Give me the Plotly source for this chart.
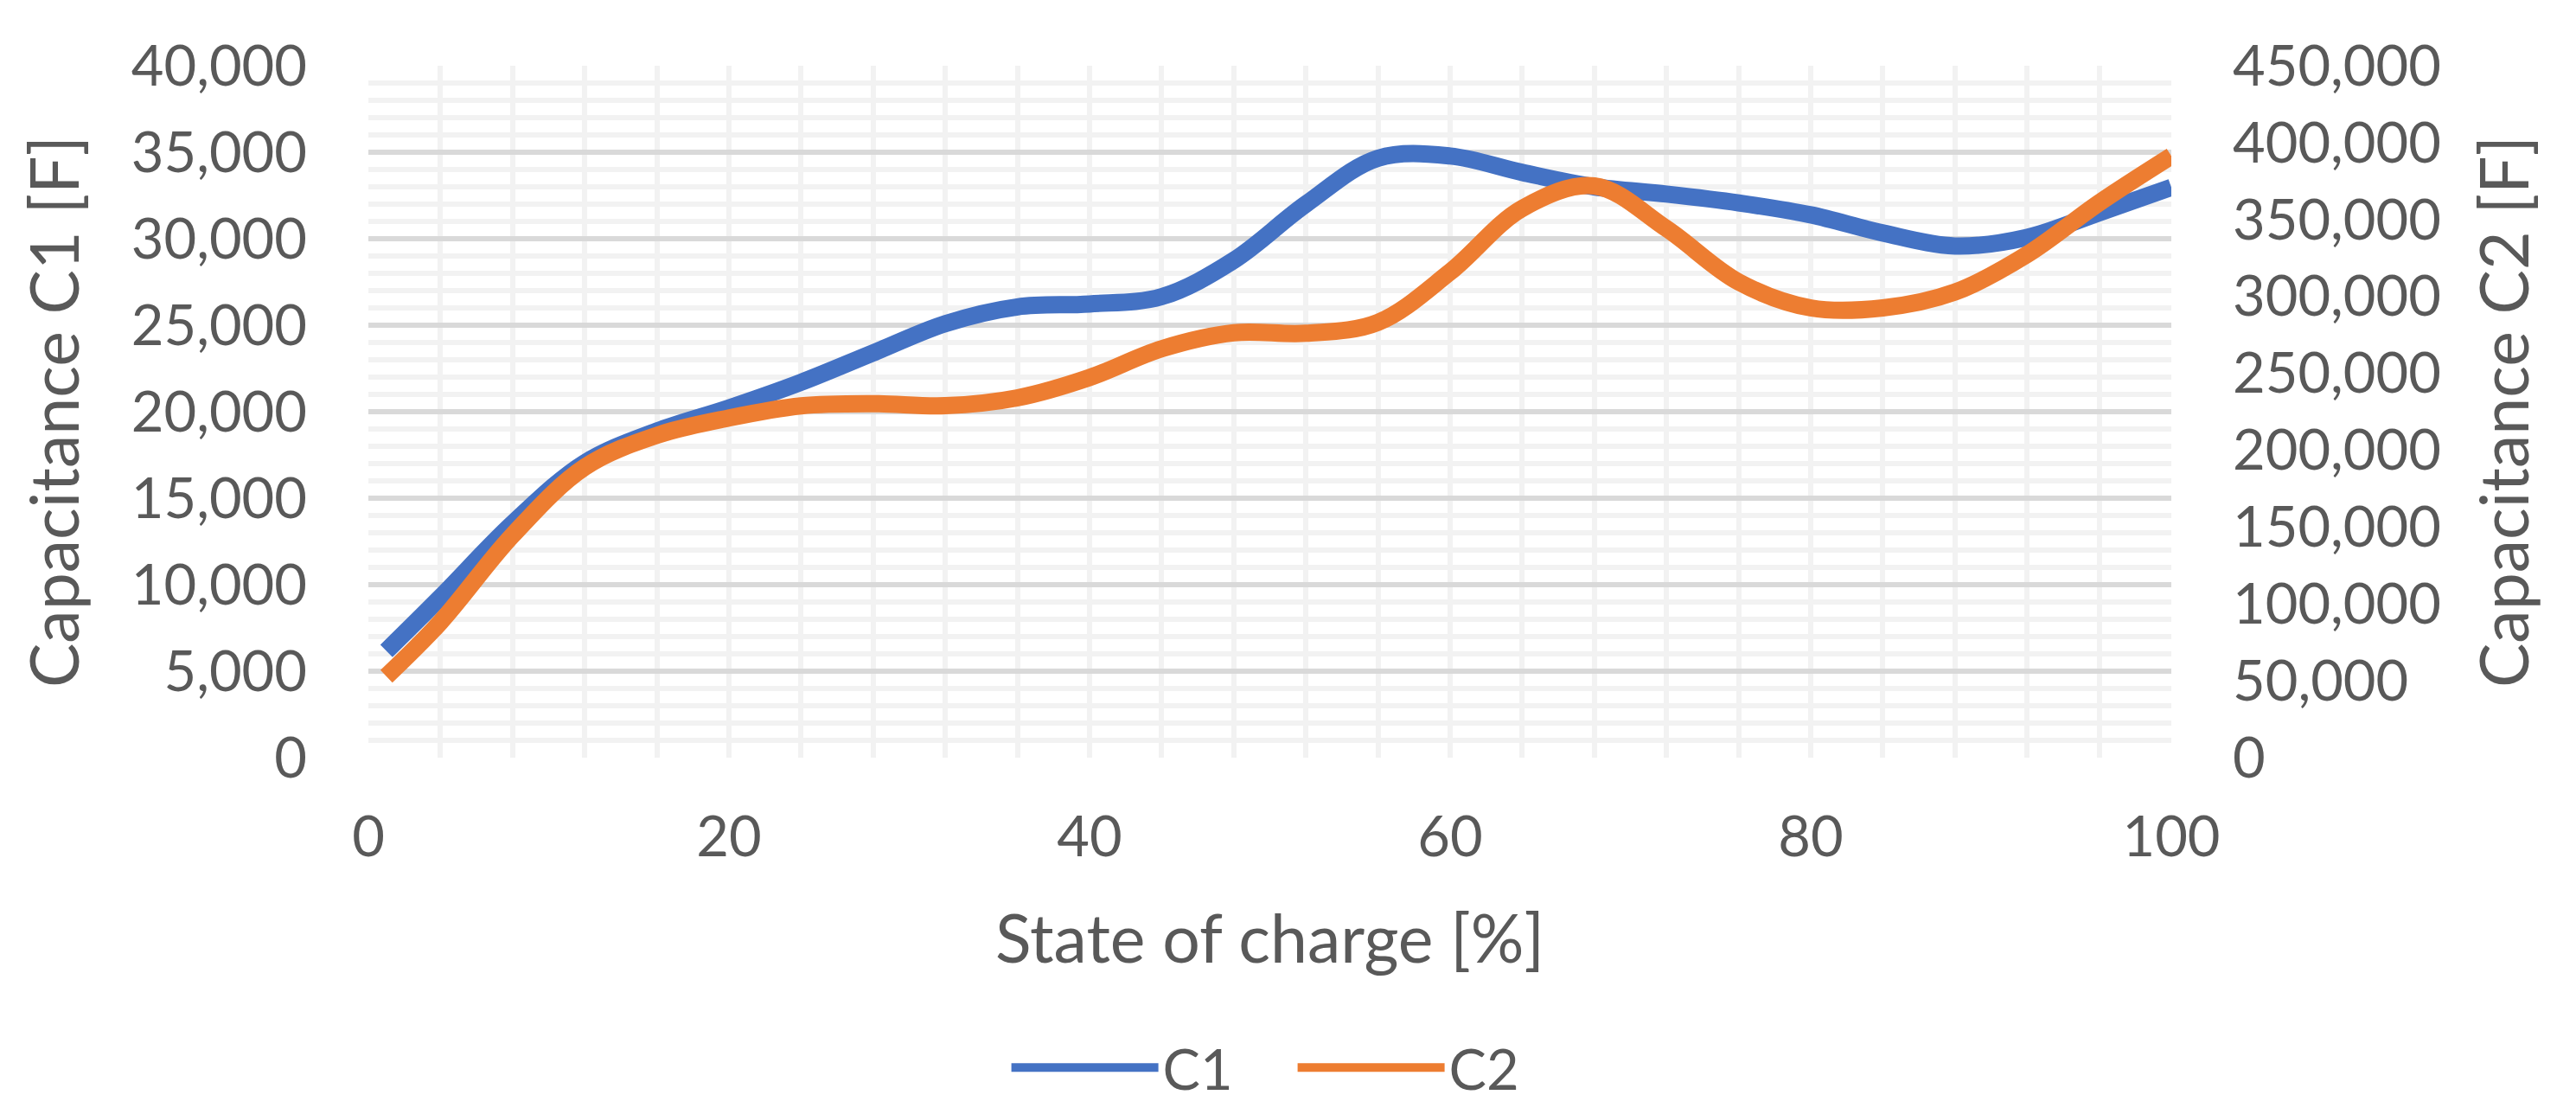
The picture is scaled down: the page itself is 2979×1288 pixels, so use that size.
import plotly.graph_objects as go

soc = [1, 4, 8, 12, 16, 20, 24, 28, 32, 36, 40, 44, 48, 52, 56, 60, 64, 68, 72, 76, 80, 84, 88, 92, 96, 100]
c1 = [6170, 9270, 13530, 17040, 18880, 20220, 21700, 23400, 25090, 26060, 26230, 26650, 28750, 32000,
      34650, 34780, 33830, 33000, 32580, 32070, 31380, 30330, 29580, 30080, 31500, 32970]
c2 = [52900, 88200, 144700, 188900, 209600, 220900, 228800, 230200, 228900, 234000, 247200, 265900, 276300,
      276000, 283100, 315900, 357200, 371800, 344100, 309400, 292500, 292500, 302800, 327200, 360900, 391300]

x_ticks = [0, 20, 40, 60, 80, 100]

FONT = "Lato"
TXT = "#595959"
BLUE = "#4472C4"
ORANGE = "#ED7D31"

fig = go.Figure()
fig.add_trace(go.Scatter(x=soc, y=c1, name="C1", mode="lines",
                         line=dict(color=BLUE, width=20, shape="spline", smoothing=1.0), yaxis="y"))
fig.add_trace(go.Scatter(x=soc, y=c2, name="C2", mode="lines",
                         line=dict(color=ORANGE, width=20, shape="spline", smoothing=1.0), yaxis="y2"))

fig.update_layout(
    width=2979, height=1288,
    margin=dict(l=418, r=476, t=68, b=416),
    paper_bgcolor="white", plot_bgcolor="white",
    font=dict(family=FONT, color=TXT, size=65),
    showlegend=True,
    legend=dict(orientation="h", x=0.513, xanchor="center", y=-0.448, yanchor="middle",
                font=dict(size=65, color=TXT), itemwidth=170, entrywidth=146, traceorder="normal"),
    xaxis=dict(range=[0, 100], tickvals=x_ticks, showgrid=True, gridcolor="#F2F2F2", gridwidth=6,
               minor=dict(dtick=4, showgrid=True, gridcolor="#F2F2F2", gridwidth=6),
               zeroline=False, showline=False, ticks="", ticklabelstandoff=48,
               tickfont=dict(size=65, color=TXT), automargin=False,
               title=dict(text="State of charge [%]", font=dict(size=77, color=TXT), standoff=56)),
    yaxis=dict(range=[0, 40000], dtick=5000, tickformat=",d", showgrid=True, gridcolor="#D9D9D9", gridwidth=6,
               minor=dict(dtick=1000, showgrid=True, gridcolor="#F2F2F2", gridwidth=6),
               zeroline=False, showline=False, ticks="", ticklabelstandoff=70,
               tickfont=dict(size=65, color=TXT), automargin=False,
               title=dict(text="Capacitance C1 [F]", font=dict(size=77, color=TXT), standoff=34)),
    yaxis2=dict(range=[0, 450000], dtick=50000, tickformat=",d", overlaying="y", side="right",
                showgrid=False, zeroline=False, showline=False, ticks="", ticklabelstandoff=70,
                tickfont=dict(size=65, color=TXT), automargin=False,
                title=dict(text="Capacitance C2 [F]", font=dict(size=77, color=TXT), standoff=48)),
)

fig.write_html("out.html")
